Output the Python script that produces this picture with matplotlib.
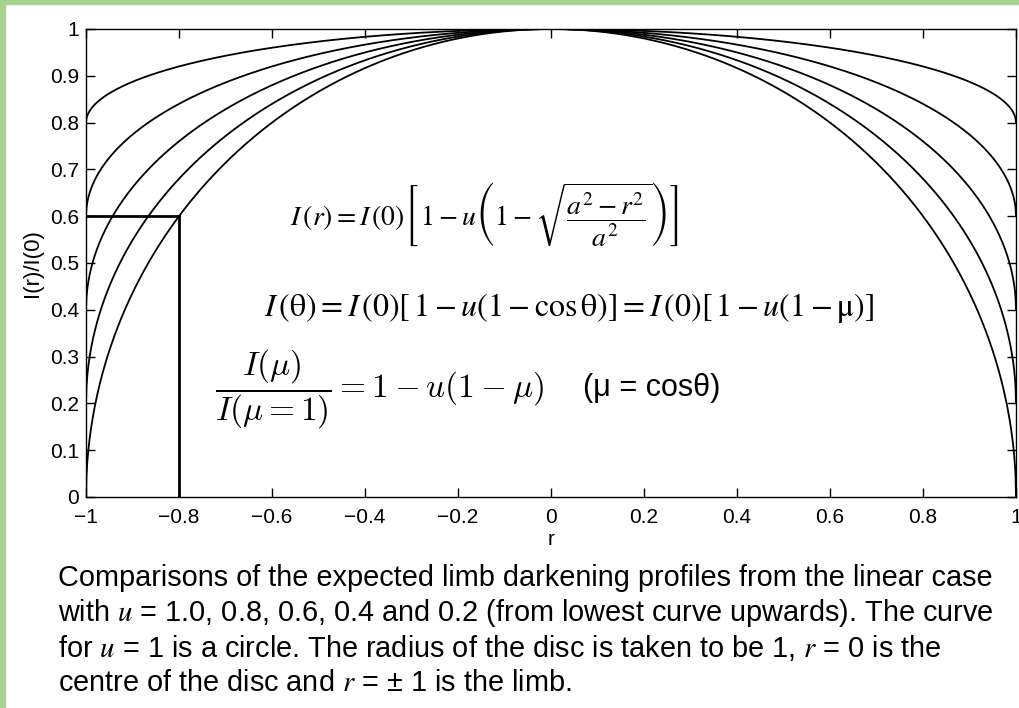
import numpy as np
import matplotlib
matplotlib.use("Agg")
import matplotlib.pyplot as plt
from matplotlib.patches import Rectangle

plt.rcParams["font.family"] = ["Liberation Sans", "DejaVu Sans"]

# limb darkening coefficients, lowest curve upwards
u_values = [1.0, 0.8, 0.6, 0.4, 0.2]
x_ticks = [-1, -0.8, -0.6, -0.4, -0.2, 0, 0.2, 0.4, 0.6, 0.8, 1]
x_labels = ["\u22121", "\u22120.8", "\u22120.6", "\u22120.4", "\u22120.2", "0", "0.2", "0.4", "0.6", "0.8", "1"]
y_ticks = [0, 0.1, 0.2, 0.3, 0.4, 0.5, 0.6, 0.7, 0.8, 0.9, 1]
y_labels = ["0", "0.1", "0.2", "0.3", "0.4", "0.5", "0.6", "0.7", "0.8", "0.9", "1"]
# marker lines at r = -0.8
mark_r = -0.8
mark_I = 0.6

caption = [
    "Comparisons of the expected limb darkening profiles from the linear case",
    "with $u$ = 1.0, 0.8, 0.6, 0.4 and 0.2 (from lowest curve upwards). The curve",
    "for $u$ = 1 is a circle. The radius of the disc is taken to be 1, $r$ = 0 is the",
    "centre of the disc and $r$ = \u00b1 1 is the limb.",
]

fig = plt.figure(figsize=(10.2, 7.08), dpi=100)
fig.patch.set_facecolor("white")
green = "#a9d18e"
fig.patches.append(Rectangle((0, 0), 5 / 1020, 1, transform=fig.transFigure, color=green, zorder=0))
fig.patches.append(Rectangle((0, 1 - 4 / 708), 1, 4 / 708, transform=fig.transFigure, color=green, zorder=0))

ax = fig.add_axes([86 / 1020, 211 / 708, 930 / 1020, 468 / 708])

r = np.linspace(-1, 1, 2001)
for u in u_values:
    I = 1 - u * (1 - np.sqrt(np.clip(1 - r ** 2, 0, None)))
    ax.plot(r, I, color="black", lw=1.3)

ax.plot([-1, mark_r], [mark_I, mark_I], color="black", lw=2)
ax.plot([mark_r, mark_r], [0, mark_I], color="black", lw=2)

ax.set_xlim(-1, 1)
ax.set_ylim(0, 1)
ax.set_xticks(x_ticks)
ax.set_xticklabels(x_labels)
ax.set_yticks(y_ticks)
ax.set_yticklabels(y_labels)
ax.tick_params(direction="in", length=6.5, width=1, top=True, right=True, labelsize=15, pad=5)
ax.tick_params(axis="x", pad=8)
for s in ax.spines.values():
    s.set_linewidth(1)
ax.set_xlabel("r", fontsize=15, labelpad=2)
ax.set_ylabel("I(r)/I(0)", fontsize=16, labelpad=5)

ax.text(-0.142, 0.603, r"$I\,(r) = I\,(0)\left[\,1 - u\left(1 - \sqrt{\dfrac{a^2 - r^2}{a^2}}\right)\right]$",
        fontsize=20, math_fontfamily="stix", ha="center", va="center")
ax.text(0.039, 0.404, r"$I\,(\mathrm{\theta}) = I\,(0)[\,1 - u(1 - \cos\mathrm{\theta})] = I\,(0)[\,1 - u(1 - \mathrm{\mu})]$",
        fontsize=23, math_fontfamily="stix", ha="center", va="center")
ax.text(-0.723, 0.229, r"$\dfrac{I(\mu)}{I(\mu=1)} = 1 - u(1 - \mu)$",
        fontsize=24, math_fontfamily="cm", ha="left", va="center")
ax.text(0.069, 0.233, "(\u03bc = cos\u03b8)", fontsize=22, ha="left", va="center")

for i, line in enumerate(caption):
    fig.text(58 / 1020, 1 - (578 + 35 * i) / 708, line, fontsize=20.8,
             math_fontfamily="stix", ha="left", va="center")

fig.savefig("out.png", dpi=100)
